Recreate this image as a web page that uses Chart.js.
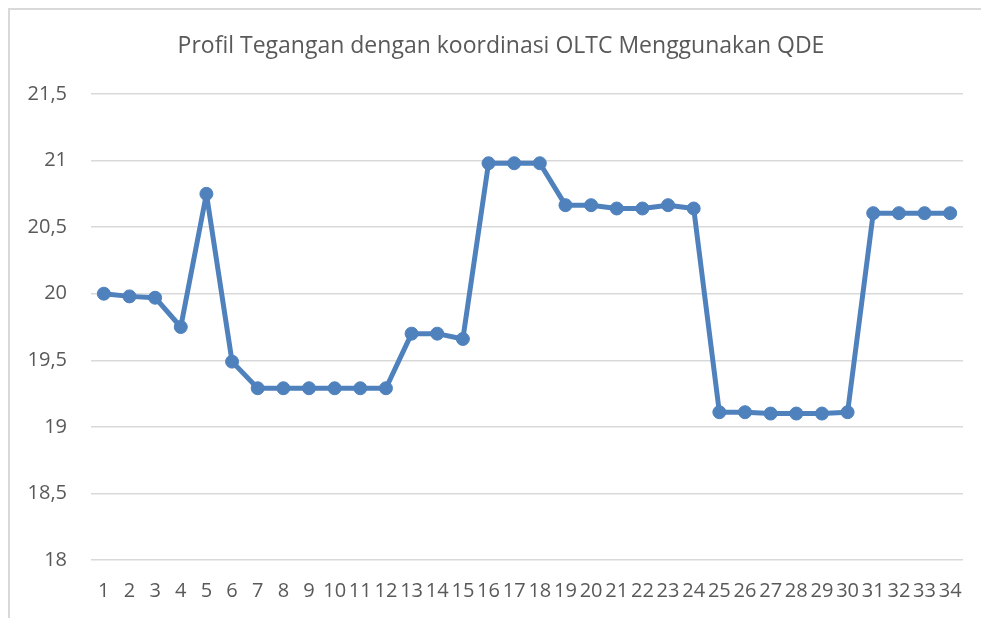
<!DOCTYPE html>
<html>
<head>
<meta charset="utf-8">
<script src="https://cdn.jsdelivr.net/npm/chart.js@4/dist/chart.umd.min.js"></script>
<style>
  html, body { margin: 0; padding: 0; background: #ffffff; }
  #wrap { position: relative; width: 981px; height: 618px; overflow: hidden; }
  #frame { position: absolute; left: 8px; top: 8px; width: 1000px; height: 700px;
           border-left: 2px solid #d9d9d9; border-top: 2px solid #d9d9d9; box-sizing: border-box; }
  canvas { position: absolute; left: 0; top: 0; }
</style>
</head>
<body>
<div id="wrap">
  <div id="frame"></div>
  <canvas id="c" width="981" height="618"></canvas>
</div>
<script>
const chartTitle = "Profil Tegangan dengan koordinasi OLTC Menggunakan QDE";
const categories = ["1","2","3","4","5","6","7","8","9","10","11","12","13","14","15","16","17","18","19","20","21","22","23","24","25","26","27","28","29","30","31","32","33","34"];
const voltage = [20.00, 19.98, 19.97, 19.75, 20.75, 19.49, 19.29, 19.29, 19.29, 19.29, 19.29, 19.29,
                 19.70, 19.70, 19.66, 20.98, 20.98, 20.98, 20.665, 20.665, 20.64, 20.64, 20.665, 20.64,
                 19.11, 19.11, 19.10, 19.10, 19.10, 19.11, 20.605, 20.605, 20.605, 20.605];
const yMin = 18;
const yMax = 21.5;
const yStep = 0.5;

const FONT = "'Open Sans', 'Noto Sans', sans-serif";
const TXT = "#595959";
const GRID = "#d9d9d9";
const BLUE = "#4f81bd";

// Title drawn centred over the whole chart frame (as in the reference)
const frameTitle = {
  id: 'frameTitle',
  afterDraw(chart) {
    const ctx = chart.ctx;
    ctx.save();
    ctx.font = "normal 23px " + FONT;
    ctx.fillStyle = TXT;
    ctx.textAlign = 'center';
    ctx.textBaseline = 'middle';
    ctx.fillText(chartTitle, 501, 46);
    ctx.restore();
  }
};

new Chart(document.getElementById('c'), {
  type: 'line',
  data: {
    labels: categories,
    datasets: [{
      data: voltage,
      borderColor: BLUE,
      backgroundColor: BLUE,
      borderWidth: 5,
      borderJoinStyle: 'round',
      borderCapStyle: 'round',
      pointRadius: 6.5,
      pointBorderWidth: 1,
      pointBorderColor: BLUE,
      pointBackgroundColor: BLUE,
      tension: 0
    }]
  },
  options: {
    responsive: false,
    animation: false,
    layout: { padding: { left: 8, right: 18, top: 94, bottom: 0 } },
    plugins: {
      legend: { display: false },
      tooltip: { enabled: false },
      title: { display: false }
    },
    scales: {
      x: {
        offset: true,
        grid: { display: false, drawTicks: false },
        border: { display: false },
        ticks: {
          autoSkip: false, maxRotation: 0, minRotation: 0,
          color: TXT, padding: 19,
          font: { family: FONT, size: 20 }
        },
        afterFit: (s) => { s.height = 58; }
      },
      y: {
        min: yMin, max: yMax,
        grid: { color: GRID, lineWidth: 1.5, drawTicks: false },
        border: { display: false },
        ticks: {
          stepSize: yStep, color: TXT, padding: 24,
          font: { family: FONT, size: 20 },
          callback: (v) => String(v).replace('.', ',')
        },
        afterFit: (s) => { s.width = 83; }
      }
    }
  },
  plugins: [frameTitle]
});
</script>
</body>
</html>
